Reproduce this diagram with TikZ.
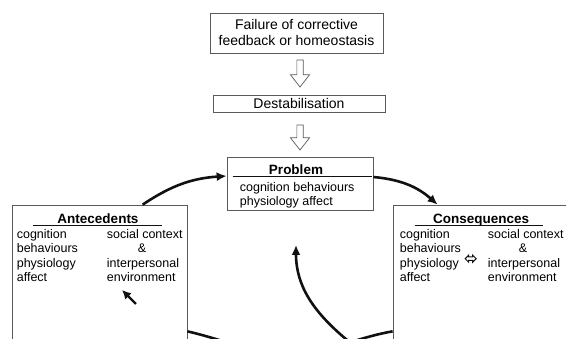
\documentclass[tikz,border=0pt]{standalone}
\usepackage{fontspec}
\setmainfont{Liberation Sans}
\usetikzlibrary{arrows.meta,calc,positioning,shapes.arrows}
\definecolor{ScanEdge}{HTML}{5A5A5A}
\definecolor{ScanInk}{HTML}{111111}
\tikzset{
  >=Latex,
  framebox/.style={draw=ScanEdge,line width=0.7pt,fill=white,inner sep=0pt},
  headtext/.style={font=\fontsize{14}{16}\selectfont,align=center,inner sep=0pt},
  titletext/.style={font=\fontsize{13.5}{16}\selectfont\bfseries,inner sep=0pt},
  bodytext/.style={font=\fontsize{12.5}{14.4}\selectfont,align=left,inner sep=0pt,anchor=north west},
  titlerule/.style={draw=ScanInk,line width=0.6pt},
  droparrow/.style={single arrow,draw=ScanEdge,line width=0.7pt,fill=white,shape border rotate=270,
    inner sep=2.8pt,single arrow head extend=6.5pt,single arrow tip angle=76},
  swaparrow/.style={double arrow,draw=ScanInk,line width=1pt,fill=white,inner sep=1.2pt,
    double arrow head extend=1.8pt,minimum height=11pt},
  cyclearrow/.style={-{Latex[length=10pt,width=9pt]},line width=2.6pt,draw=ScanInk},
  loopline/.style={line width=2.6pt,draw=ScanInk},
  pointer/.style={-{Latex[length=9pt,width=9pt]},line width=2.4pt,draw=ScanInk}
}
\begin{document}
\begin{tikzpicture}[x=1pt,y=1pt]
  \useasboundingbox (0,0) rectangle (566,339);
  \clip (0,0) rectangle (566,339);
  \node[framebox,headtext,minimum width=173,minimum height=40] (failure) at (296.5,306) {Failure of corrective\\feedback or homeostasis};
  \node[droparrow,minimum height=27] (drop1) at (300,267.5) {};
  \node[framebox,headtext,minimum width=172,minimum height=17] (destab) at (299,235.5) {Destabilisation};
  \node[droparrow,minimum height=25] (drop2) at (300,203.5) {};

  \node[framebox,minimum width=146,minimum height=53] (problem) at (300,155.5) {};
  \node[titletext,anchor=north] (problemT) at ($(problem.north)+(-4,-8)$) {Problem};
  \draw[titlerule] ($(problem.north west)+(6,-20)$) -- ($(problem.north east)+(-1,-20)$);
  \node[bodytext] (problemB) at ($(problem.north west)+(13,-25.5)$) {cognition behaviours\\physiology affect};

  \node[framebox,minimum width=175,minimum height=140] (antecedents) at (99.5,64) {};
  \node[titletext,anchor=north] (antecedentsT) at ($(antecedents.north)+(-1.5,-9)$) {Antecedents};
  \draw[titlerule] ($(antecedents.north west)+(21,-20.5)$) -- ($(antecedents.north west)+(150,-20.5)$);
  \node[bodytext] (antecedentsL) at ($(antecedents.north west)+(5,-24.5)$) {cognition\\behaviours\\physiology\\affect};
  \node[bodytext] (antecedentsR) at ($(antecedents.north west)+(95,-24.5)$) {social context\\\hspace*{31pt}\&\\interpersonal\\environment};
  \coordinate (pointerTail) at (136,35);
  \coordinate (pointerTip) at (122,49);
  \draw[pointer] (pointerTail) -- (pointerTip);

  \node[framebox,minimum width=180,minimum height=140] (consequences) at (483,64) {};
  \node[titletext,anchor=north] (consequencesT) at ($(consequences.north west)+(88.5,-9)$) {Consequences};
  \draw[titlerule] ($(consequences.north west)+(22,-21)$) -- ($(consequences.north west)+(150,-21)$);
  \node[bodytext] (consequencesL) at ($(consequences.north west)+(7,-24.5)$) {cognition\\behaviours\\physiology\\affect};
  \node[bodytext] (consequencesR) at ($(consequences.north west)+(95,-24.5)$) {social context\\\hspace*{31pt}\&\\interpersonal\\environment};
  \node[swaparrow] (swap) at ($(consequences.north west)+(78,-54)$) {};

  \draw[cyclearrow] ($(antecedents.north west)+(131,0)$) to[bend left=15] ($(problem.west)+(0,7.5)$);
  \draw[cyclearrow] ($(problem.east)+(0,6.5)$) to[bend left=18] ($(consequences.north west)+(45,0)$);
  \coordinate (loopLow) at (290,-14);
  \draw[loopline] ($(consequences.south west)+(0,14)$) to[out=190,in=0] (loopLow) to[out=180,in=-13] ($(antecedents.south east)+(0,14)$);
  \coordinate (split) at (347,-1);
  \coordinate (feedbackTip) at (296,94);
  \draw[cyclearrow] (split) to[out=140,in=-90] (feedbackTip);
\end{tikzpicture}
\end{document}
